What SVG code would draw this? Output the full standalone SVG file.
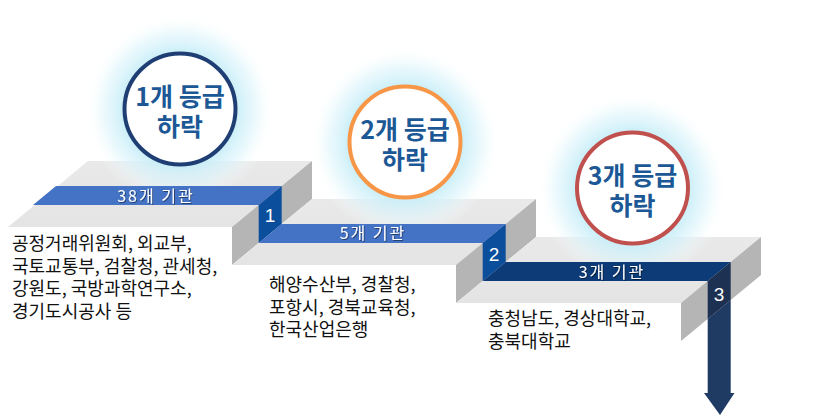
<svg xmlns="http://www.w3.org/2000/svg" width="823" height="417" viewBox="0 0 823 417">
  <defs>
    <radialGradient id="glow" cx="0.5" cy="0.5" r="0.5">
      <stop offset="0" stop-color="#bfeaf6" stop-opacity="1"/>
      <stop offset="0.6" stop-color="#c9eef8" stop-opacity="0.95"/>
      <stop offset="0.8" stop-color="#def5fb" stop-opacity="0.6"/>
      <stop offset="1" stop-color="#ffffff" stop-opacity="0"/>
    </radialGradient>
    <linearGradient id="topGrad" x1="0" y1="0" x2="0" y2="1">
      <stop offset="0" stop-color="#e9e9e9"/>
      <stop offset="1" stop-color="#e4e4e4"/>
    </linearGradient>
    <filter id="tshadow" x="-10%" y="-30%" width="120%" height="160%">
      <feDropShadow dx="1" dy="1" stdDeviation="0.6" flood-color="#000000" flood-opacity="0.45"/>
    </filter>
  </defs>
  <style>
    .top { fill: url(#topGrad); }
    .side { fill: #b5b5b5; }
    .bandL { fill: #4472c4; }
    .bandD { fill: #0c3b78; }
    .box { fill: #0b4e9c; }
    .box3 { fill: #1d3152; }
    .arrow { fill: #1f3a63; }
    .glow { fill: url(#glow); }
    .circ { fill: #ffffff; stroke-width: 4; }
    .ctxt { font-family: "Noto Sans CJK KR", "Noto Sans", sans-serif; font-weight: bold; font-size: 25px; fill: #1c5896; text-anchor: middle; }
    .btxt { font-family: "Noto Sans CJK KR", "Noto Sans", sans-serif; font-size: 16px; fill: #ffffff; text-anchor: middle; letter-spacing: 2px; }
    .num { font-family: "Liberation Sans", "Noto Sans", sans-serif; font-size: 19px; fill: #ffffff; text-anchor: middle; }
    .body { font-family: "Noto Sans CJK KR", "Noto Sans", sans-serif; font-size: 18px; fill: #111111; }
  </style>
  <rect width="823" height="417" fill="#ffffff"/>

  <g id="step1">
    <polygon class="top" points="88,161 312,161 232,227 8,227"/>
    <polygon class="side" points="232,227 312,161 312,199 232,265"/>
  </g>
  <g id="step2">
    <polygon class="top" points="312,199 536,199 456,265 232,265"/>
    <polygon class="side" points="456,265 536,199 536,237 456,303"/>
  </g>
  <g id="step3">
    <polygon class="top" points="536,237 761,237 681,303 456,303"/>
    <polygon class="side" points="681,303 761,237 761,275 681,341"/>
  </g>

  <g id="glows">
    <circle class="glow" cx="180" cy="109" r="95"/>
    <circle class="glow" cx="405" cy="142" r="95"/>
    <circle class="glow" cx="632" cy="188" r="95"/>
  </g>

  <g id="connectors">
    <polygon class="bandL" points="56,186 281.7,186 258.7,205 33,205"/>
    <polygon class="box" points="258.7,205 281.7,186 281.7,224 258.7,243"/>
    <polygon class="bandL" points="281.7,224 505.7,224 482.7,243 258.7,243"/>
    <polygon class="box" points="482.7,243 505.7,224 505.7,262 482.7,281"/>
    <polygon class="bandD" points="505.7,262 730.7,262 707.7,281 482.7,281"/>
    <polygon class="box3" points="707.7,281 730.7,262 730.7,300 707.7,319"/>
    <polygon class="arrow" points="707.7,319 730.7,300 730.7,393 734.5,393 720,415 704,393 707.7,393"/>
  </g>

  <g id="labels">
    <text class="btxt" filter="url(#tshadow)" x="156" y="202">38개 기관</text>
    <text class="btxt" filter="url(#tshadow)" x="373" y="239">5개 기관</text>
    <text class="btxt" filter="url(#tshadow)" x="612" y="278">3개 기관</text>
    <text class="num" x="270" y="222">1</text>
    <text class="num" x="494" y="261">2</text>
    <text class="num" x="719" y="301">3</text>
  </g>

  <g id="circle1">
    <circle class="circ" cx="180" cy="109" r="55.5" stroke="#1f3f74"/>
    <text class="ctxt"><tspan x="180" y="106">1개 등급</tspan><tspan x="180" y="136">하락</tspan></text>
  </g>
  <g id="circle2">
    <circle class="circ" cx="405" cy="142" r="55.5" stroke="#f79646"/>
    <text class="ctxt"><tspan x="405" y="139">2개 등급</tspan><tspan x="405" y="169">하락</tspan></text>
  </g>
  <g id="circle3">
    <circle class="circ" cx="632.5" cy="188" r="55.5" stroke="#c0504d"/>
    <text class="ctxt"><tspan x="632.5" y="185">3개 등급</tspan><tspan x="632.5" y="215">하락</tspan></text>
  </g>

  <g id="text1">
    <text class="body" x="12" y="250">공정거래위원회, 외교부,</text>
    <text class="body" x="12" y="272.5">국토교통부, 검찰청, 관세청,</text>
    <text class="body" x="12" y="295">강원도, 국방과학연구소,</text>
    <text class="body" x="12" y="317.5">경기도시공사 등</text>
  </g>
  <g id="text2">
    <text class="body" x="269" y="291">해양수산부, 경찰청,</text>
    <text class="body" x="269" y="313.5">포항시, 경북교육청,</text>
    <text class="body" x="269" y="336">한국산업은행</text>
  </g>
  <g id="text3">
    <text class="body" x="488" y="325">충청남도, 경상대학교,</text>
    <text class="body" x="488" y="347.5">충북대학교</text>
  </g>
</svg>
